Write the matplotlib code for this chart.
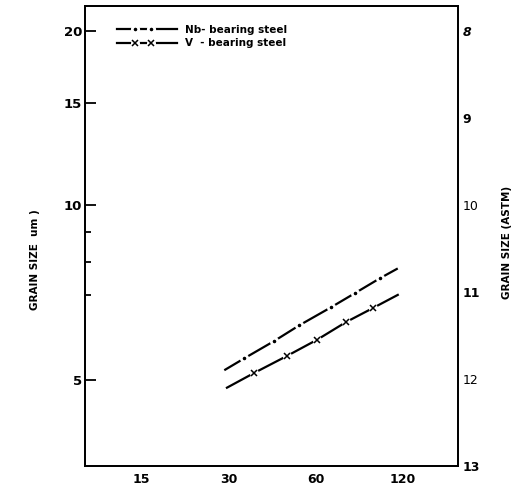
import matplotlib.pyplot as plt
import numpy as np
from matplotlib.lines import Line2D
from matplotlib.legend_handler import HandlerLine2D, HandlerTuple
from matplotlib.ticker import NullLocator, NullFormatter

# Nb-bearing steel: line ends plus the dots marked along it
nb_time = [29.2, 34.0, 43.2, 52.6, 67.7, 82.1, 100.2, 114.5]
nb_size = [5.21, 5.45, 5.84, 6.21, 6.67, 7.06, 7.49, 7.77]

# V-bearing steel: line ends plus the crosses marked along it
v_time = [29.6, 36.7, 47.7, 60.8, 76.3, 94.5, 115.4]
v_size = [4.85, 5.14, 5.50, 5.87, 6.29, 6.65, 7.01]

x_ticks = [15, 30, 60, 120]
size_ticks = [5, 10, 15, 20]
size_minor = [7, 8, 9]
astm_ticks = [8, 9, 10, 11, 12, 13]
astm_marked = [10, 11]
astm_weight = ['bold', 'bold', 'normal', 'bold', 'normal', 'bold']
astm_style = ['italic', 'normal', 'normal', 'normal', 'normal', 'normal']

x_lim = (9.53, 186.9)
size_lim = (3.55, 22.1)


def to_astm(d):
    # ASTM number goes up by 2 each time the grain diameter halves
    return 10 - 2 * np.log2(np.asarray(d, dtype=float) / 10)


class TwoMarkHandler(HandlerLine2D):
    # legend sample with two marks inside the line, as drawn in the figure
    def create_artists(self, legend, orig_handle, xdescent, ydescent,
                       width, height, fontsize, trans):
        xdata = -xdescent + width * np.array([0, 0.29, 0.56, 1])
        ydata = np.full_like(xdata, (height - ydescent) / 2)
        legline = Line2D(xdata, ydata, markevery=[1, 2])
        self.update_prop(legline, orig_handle, legend)
        legline.set_transform(trans)
        return [legline]


fig = plt.figure(figsize=(5.12, 4.9), dpi=100)
ax = fig.add_axes([0.1654, 0.0484, 0.7297, 0.94])
ax.set_xscale('log', base=2)
ax.set_yscale('log')
ax.set_xlim(*x_lim)
ax.set_ylim(*size_lim)

nb_line, = ax.plot(nb_time, nb_size, color='black', lw=1.6,
                   marker='o', ms=4.6, mfc='black', mec='white', mew=2.0,
                   markevery=slice(1, -1))
v_line, = ax.plot(v_time, v_size, color='black', lw=1.6)
v_gap, = ax.plot(v_time, v_size, ls='none', marker='o', ms=6.5,
                 mfc='white', mec='none', markevery=slice(1, -1))
v_mark, = ax.plot(v_time, v_size, ls='none', marker='x', ms=4, mew=1.1,
                  color='black', markevery=slice(1, -1))

ax.set_xticks(x_ticks, labels=[str(t) for t in x_ticks])
ax.xaxis.set_minor_locator(NullLocator())
ax.tick_params(axis='x', length=0, pad=5, labelsize=9)
for lbl in ax.get_xticklabels():
    lbl.set_fontweight('bold')

ax.set_yticks(size_ticks, labels=[str(t) for t in size_ticks])
ax.set_yticks(size_minor, minor=True)
ax.yaxis.set_minor_formatter(NullFormatter())
ax.tick_params(axis='y', which='major', direction='in', length=8,
               width=1.3, labelsize=9.5, pad=2)
ax.tick_params(axis='y', which='minor', direction='in', length=4, width=1.3)
for lbl in ax.get_yticklabels():
    lbl.set_fontweight('bold')

ax2 = ax.twinx()
ax2.set_ylim(to_astm(size_lim[0]), to_astm(size_lim[1]))
ax2.set_yticks(astm_ticks, labels=[str(t) for t in astm_ticks])
ax2.set_yticks(astm_marked, minor=True)
ax2.yaxis.set_minor_formatter(NullFormatter())
ax2.tick_params(axis='y', which='major', length=0, pad=3, labelsize=9)
ax2.tick_params(axis='y', which='minor', direction='in', length=5, width=1.3)
for lbl, w, st in zip(ax2.get_yticklabels(), astm_weight, astm_style):
    lbl.set_fontweight(w)
    lbl.set_fontstyle(st)

for a in (ax, ax2):
    for sp in a.spines.values():
        sp.set_linewidth(1.3)

ax.set_ylabel('GRAIN SIZE  um )', fontsize=7.5, fontweight='bold')
ax.yaxis.set_label_coords(-0.12, 0.448)
ax2.set_ylabel('GRAIN SIZE (ASTM)', fontsize=7.5, fontweight='bold')
ax2.yaxis.set_label_coords(1.117, 0.486)

ax2.legend([nb_line, (v_line, v_gap, v_mark)],
           ['Nb- bearing steel', 'V  - bearing steel'],
           handler_map={Line2D: TwoMarkHandler(),
                        tuple: HandlerTuple(ndivide=1)},
           loc='upper left', bbox_to_anchor=(0.0865, 0.958),
           frameon=False, borderpad=0, borderaxespad=0,
           handlelength=5.8, handletextpad=0.7, labelspacing=0.3,
           prop={'weight': 'bold', 'size': 7.5})

fig.savefig('out.png', dpi=100)
